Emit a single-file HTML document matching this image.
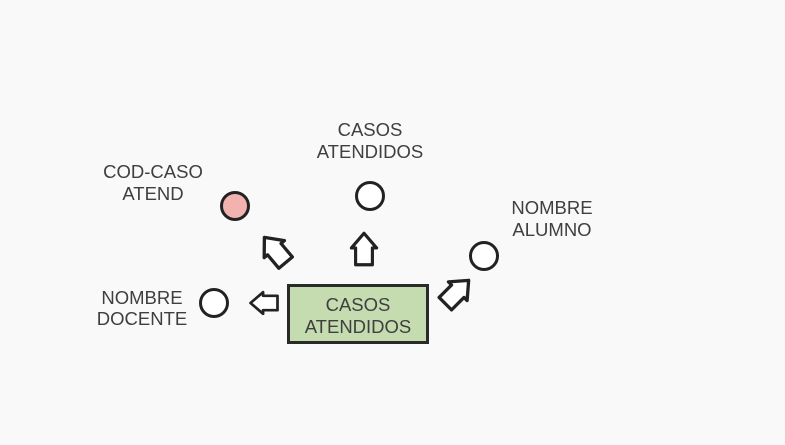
<!DOCTYPE html>
<html><head><meta charset="utf-8"><style>
html,body{margin:0;padding:0;background:#f9f9f9;}
svg{display:block;}
text{font-family:"Liberation Sans",sans-serif;font-size:18.5px;fill:#3f3f3f;text-anchor:middle;}
</style></head><body>
<svg width="785" height="445" viewBox="0 0 785 445">
<rect width="785" height="445" fill="#f9f9f9"/>
<defs>
<polygon id="ar" points="0,-15 12,-1 8,-1 8,15 -8,15 -8,-1 -12,-1" fill="#fff" stroke="#222" stroke-width="3" stroke-linejoin="round"/>
</defs>
<rect x="288.5" y="285.5" width="139" height="57" fill="#c5dcb0" stroke="#2a2a2a" stroke-width="3"/>
<text x="358" y="311">CASOS</text>
<text x="358" y="333">ATENDIDOS</text>
<circle cx="235" cy="206" r="13.5" fill="#f2b3b0" stroke="#222" stroke-width="3"/>
<circle cx="370" cy="196" r="13.5" fill="#fff" stroke="#222" stroke-width="3"/>
<circle cx="484" cy="256" r="13.5" fill="#fff" stroke="#222" stroke-width="3"/>
<circle cx="214" cy="303" r="13.5" fill="#fff" stroke="#222" stroke-width="3"/>
<use href="#ar" transform="translate(364,249) scale(1.05)"/>
<use href="#ar" transform="translate(264,303) rotate(-90) scale(0.9)"/>
<use href="#ar" transform="translate(275,250) rotate(-40) scale(1.1)"/>
<use href="#ar" transform="translate(457,292) rotate(45) scale(1.1)"/>
<text x="370" y="136">CASOS</text>
<text x="370" y="158">ATENDIDOS</text>
<text x="153" y="178">COD-CASO</text>
<text x="153" y="200">ATEND</text>
<text x="552" y="214">NOMBRE</text>
<text x="552" y="236">ALUMNO</text>
<text x="142" y="304">NOMBRE</text>
<text x="142" y="325">DOCENTE</text>
</svg>
</body></html>
